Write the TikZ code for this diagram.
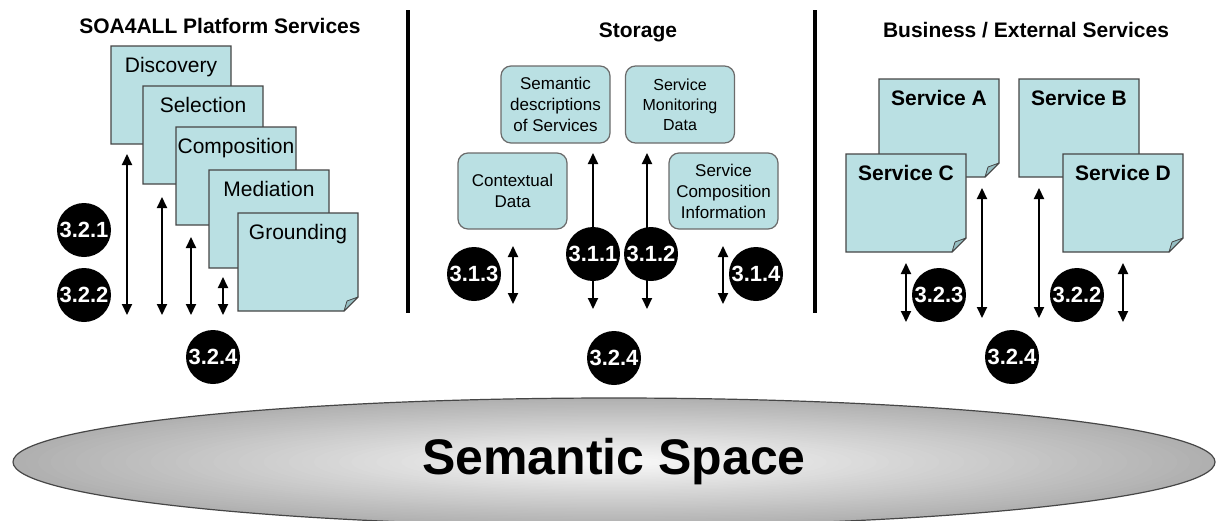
\documentclass[tikz,border=0pt]{standalone}
\usepackage{fontspec}
\setmainfont{Liberation Sans}
\usetikzlibrary{arrows.meta}

\definecolor{notecyan}{RGB}{186,224,227}
\definecolor{flapcyan}{RGB}{150,191,195}
\definecolor{edgegray}{RGB}{70,70,70}

\tikzset{
  notebody/.style={fill=notecyan, draw=edgegray, line width=1.2pt},
  noteflap/.style={fill=flapcyan, draw=edgegray, line width=0.8pt, line join=round},
  stepfont/.style={font=\fontsize{21}{25}\selectfont},
  servfont/.style={font=\bfseries\fontsize{21}{25}\selectfont},
  store/.style={fill=notecyan, draw=edgegray!80, line width=1.2pt, rounded corners=10pt,
    minimum width=109pt, minimum height=77pt, align=center, inner sep=1pt,
    font=\fontsize{17}{21}\selectfont},
  title/.style={font=\bfseries\fontsize{21}{25}\selectfont, anchor=base},
  badge/.style={circle, fill=black, text=white, minimum size=54pt, inner sep=0pt,
    font=\bfseries\fontsize{22}{24}\selectfont},
  biarrow/.style={{Triangle[width=10pt,length=11pt]}-{Triangle[width=10pt,length=11pt]},
    line width=2pt},
  divider/.style={line width=3.5pt}
}

% a sticky note with a folded bottom-right corner: name, left, top, label, font style
\newcommand\drawnote[5]{%
  \draw[notebody] (#2,#3) -- (#2+120,#3) -- (#2+120,#3+84) -- (#2+106,#3+98)
    -- (#2,#3+98) -- cycle;
  \draw[noteflap] (#2+106,#3+98) -- (#2+109,#3+88) -- (#2+120,#3+84) -- cycle;
  \node[#5, anchor=base, inner sep=0pt] (#1) at (#2+60,#3+26) {#4};
}

\begin{document}
\begin{tikzpicture}[x=1pt, y=-1pt]
\useasboundingbox[fill=white] (0,0) rectangle (1216,520);

% section titles and dividers
\node[title] (ttlplat) at (220,33) {SOA4ALL Platform Services};
\node[title] (ttlstore) at (638,37) {Storage};
\node[title] (ttlbiz) at (1026,37) {Business / External Services};
\coordinate (d1t) at (408,10);  \coordinate (d1b) at (408,313);
\coordinate (d2t) at (815,10);  \coordinate (d2b) at (815,313);
\draw[divider] (d1t) -- (d1b);
\draw[divider] (d2t) -- (d2b);

% platform services, stacked notes
\drawnote{disc}{111}{46}{Discovery}{stepfont}
\drawnote{sel}{143}{86}{Selection}{stepfont}
\drawnote{compo}{176}{127}{Composition}{stepfont}
\drawnote{med}{209}{170}{Mediation}{stepfont}
\drawnote{ground}{238}{213}{Grounding}{stepfont}

% storage
\node[store] (semdesc) at (555.5,104.5) {Semantic\\descriptions\\of Services};
\node[store, font=\fontsize{16}{20}\selectfont] (monit) at (680,104.5) {Service\\Monitoring\\Data};
\node[store, minimum height=76pt] (ctx) at (512.5,191) {Contextual\\Data};
\node[store, minimum height=76pt] (scomp) at (723.5,191) {Service\\Composition\\Information};

% business / external services
\drawnote{srvA}{879}{79}{Service A}{servfont}
\drawnote{srvB}{1019}{79}{Service B}{servfont}
\drawnote{srvC}{846}{154}{Service C}{servfont}
\drawnote{srvD}{1063}{154}{Service D}{servfont}

% arrow end points
\coordinate (p1t) at (127,154); \coordinate (p1b) at (127,315);
\coordinate (p2t) at (162,197); \coordinate (p2b) at (162,315);
\coordinate (p3t) at (191,237); \coordinate (p3b) at (191,315);
\coordinate (p4t) at (223,277); \coordinate (p4b) at (223,315);
\coordinate (s1t) at (513,246); \coordinate (s1b) at (513,304);
\coordinate (s2t) at (593,153); \coordinate (s2b) at (593,309);
\coordinate (s3t) at (647,153); \coordinate (s3b) at (647,309);
\coordinate (s4t) at (723,246); \coordinate (s4b) at (723,304);
\coordinate (e1t) at (906,263); \coordinate (e1b) at (906,322);
\coordinate (e2t) at (982,188); \coordinate (e2b) at (982,318);
\coordinate (e3t) at (1039,188); \coordinate (e3b) at (1039,318);
\coordinate (e4t) at (1123,263); \coordinate (e4b) at (1123,322);

\foreach \a in {p1,p2,p3,p4,s1,s2,s3,s4,e1,e2,e3,e4}
  \draw[biarrow] (\a t) -- (\a b);

% work package badges
\node[badge] (b321) at (84,230) {3.2.1};
\node[badge] (b322a) at (84,295) {3.2.2};
\node[badge] (b324a) at (213,357) {3.2.4};
\node[badge] (b313) at (474,274) {3.1.3};
\node[badge] (b311) at (593,254) {3.1.1};
\node[badge] (b312) at (651,254) {3.1.2};
\node[badge] (b314) at (756,274) {3.1.4};
\node[badge] (b324b) at (614,358) {3.2.4};
\node[badge] (b323) at (939,295) {3.2.3};
\node[badge] (b322b) at (1077,295) {3.2.2};
\node[badge] (b324c) at (1012,357) {3.2.4};

% semantic space: radial grey-to-white fill built from nested ellipses
\coordinate (spc) at (614,462);
\foreach \i in {0,...,47} {
  \pgfmathsetmacro\t{1-\i/48}
  \pgfmathsetmacro\pc{2+29*\t}
  \fill[black!\pc] (spc) ellipse [x radius=601*\t, y radius=64*\t];
}
\draw[draw=edgegray, line width=1.2pt] (spc) ellipse [x radius=601, y radius=64];
\node[font=\bfseries\fontsize{50}{56}\selectfont] (space) at (spc) {Semantic Space};
\end{tikzpicture}
\end{document}
